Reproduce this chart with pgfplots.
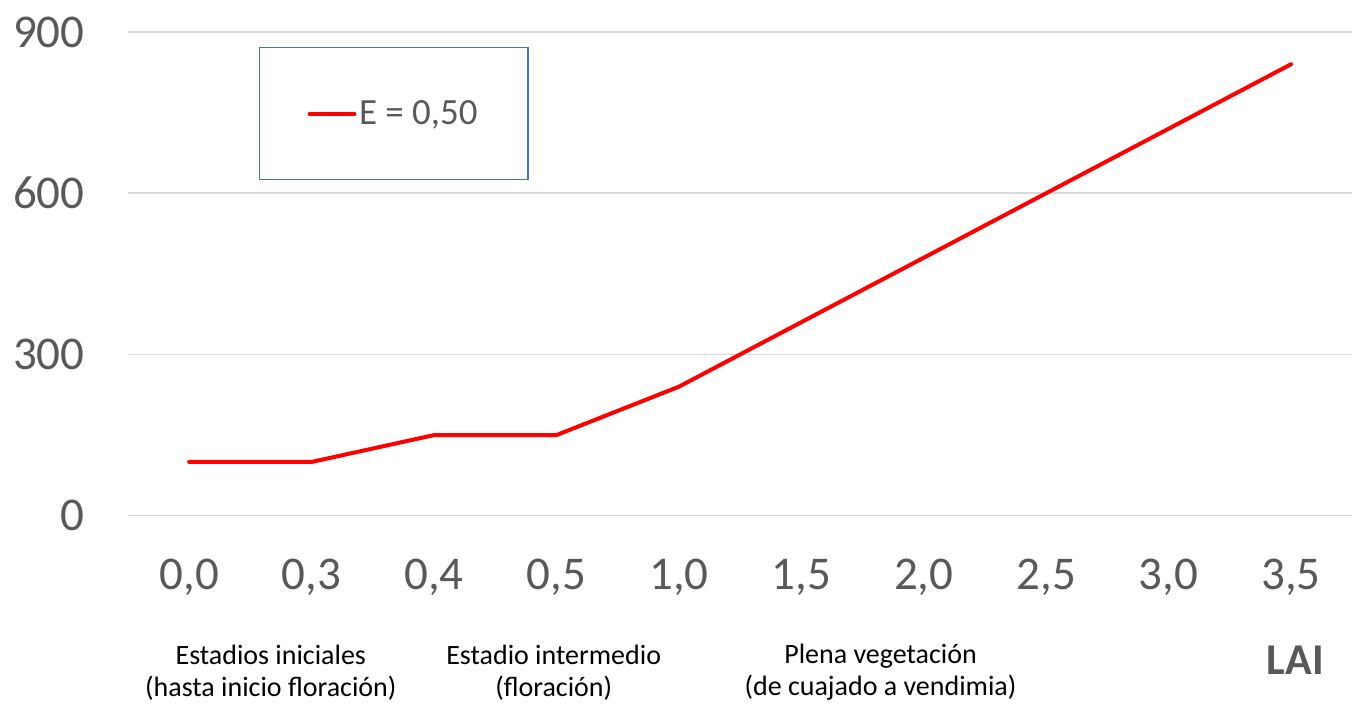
\documentclass[border=0pt]{standalone}
\usepackage{fontspec}
\setmainfont{Carlito}
\usepackage{pgfplots}
\pgfplotsset{compat=1.18}
\definecolor{tickgray}{HTML}{595959}
\definecolor{gridgray}{HTML}{D9D9D9}
\definecolor{legblue}{HTML}{4472C4}
\begin{document}
\begin{tikzpicture}
\begin{axis}[
  at={(0,0)}, anchor=south west,
  scale only axis, width=612.5pt, height=242pt,
  xmin=-0.5, xmax=9.5, ymin=0, ymax=900,
  axis line style={draw=none},
  ytick={0,300,600,900},
  ymajorgrids, grid style={gridgray, line width=0.75pt},
  xtick={0,...,9},
  xticklabels={{0,0},{0,3},{0,4},{0,5},{1,0},{1,5},{2,0},{2,5},{3,0},{3,5}},
  major tick length=0pt,
  tick style={draw=none},
  /pgf/number format/assume math mode=true,
  ticklabel style={font=\fontsize{23.5}{28}\selectfont, text=tickgray},
  yticklabel style={anchor=east, inner sep=0pt, xshift=-21.5pt},
  xticklabel style={anchor=north, inner sep=0pt, yshift=-21.5pt},
  legend style={at={(0.1069,0.969)}, anchor=north west, draw=legblue, line width=0.75pt,
    inner xsep=24pt, inner ysep=25pt, font=\fontsize{18.5}{22}\selectfont, text=tickgray,
    nodes={inner sep=1.25pt}},
  legend cell align=left,
  legend image code/.code={\draw[#1] (0pt,0pt) -- (22.5pt,0pt);},
  clip=false,
]
\addplot[red, line width=2pt, line cap=round, line join=round] coordinates {(0,100)(1,100)(2,150)(3,150)(4,240)(5,360)(6,480)(7,600)(8,720)(9,840)};
\addlegendentry{E = 0,50}
\end{axis}
\path[use as bounding box] (-64pt,-94pt) rectangle (612.5pt,258pt);
\node[align=center, font=\fontsize{14}{16}\selectfont, text=black] at (71.5pt,-78.5pt) {Estadios iniciales\\(hasta inicio floración)};
\node[align=center, font=\fontsize{14}{16}\selectfont, text=black] at (213pt,-78.5pt) {Estadio intermedio\\(floración)};
\node[align=center, font=\fontsize{14}{16}\selectfont, text=black] at (376.5pt,-78.5pt) {Plena vegetación\\(de cuajado a vendimia)};
\node[font=\fontsize{22}{26}\selectfont\bfseries, text=tickgray] at (584pt,-72.5pt) {LAI};
\end{tikzpicture}
\end{document}
